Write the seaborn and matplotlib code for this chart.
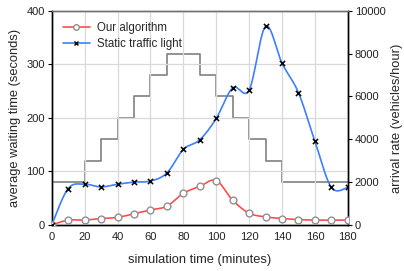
import numpy as np
import seaborn as sns
import matplotlib
matplotlib.use('Agg')
import matplotlib.pyplot as plt

# simulation time (minutes)
minutes = [0, 10, 20, 30, 40, 50, 60, 70, 80, 90, 100, 110, 120, 130, 140, 150, 160, 170, 180]
# average waiting time (seconds)
our_algorithm = [0, 9, 9, 12, 14, 21, 28, 35, 59, 72, 83, 46, 22, 15, 12, 10, 9, 9, 9]
static_light = [0, 68, 76, 71, 76, 80, 82, 97, 141, 159, 199, 256, 252, 371, 302, 247, 156, 70, 70]
# arrival rate (vehicles/hour), step edges
step_minutes = [0, 20, 30, 40, 50, 60, 70, 90, 100, 110, 120, 130, 140, 180]
arrival_rate = [2000, 3000, 4000, 5000, 6000, 7000, 8000, 7000, 6000, 5000, 4000, 3000, 2000, 2000]


def smooth(x, y, n=20):
    # catmull-rom curve through the points, like a smoothed spreadsheet line
    x = np.asarray(x, float)
    y = np.asarray(y, float)
    px = np.concatenate([[x[0]], x, [x[-1]]])
    py = np.concatenate([[y[0]], y, [y[-1]]])
    xs, ys = [], []
    t = np.linspace(0, 1, n, endpoint=False)
    for i in range(1, len(px) - 2):
        for p, out in ((px, xs), (py, ys)):
            p0, p1, p2, p3 = p[i - 1], p[i], p[i + 1], p[i + 2]
            out.extend(0.5 * (2 * p1 + (-p0 + p2) * t
                              + (2 * p0 - 5 * p1 + 4 * p2 - p3) * t ** 2
                              + (-p0 + 3 * p1 - 3 * p2 + p3) * t ** 3))
    xs.append(x[-1])
    ys.append(y[-1])
    return np.array(xs), np.array(ys)


sns.set_style('white')
plt.rcParams['font.family'] = ['Liberation Sans', 'DejaVu Sans']

fig = plt.figure(figsize=(4.04, 2.71), dpi=100)
ax = fig.add_axes([0.128, 0.170, 0.733, 0.790])
ax2 = ax.twinx()

# right axis: arrival rate steps
ax2.step(step_minutes, arrival_rate, where='post', color='#808080', lw=1.2, zorder=1)
ax2.set_ylim(0, 10000)
ax2.set_yticks(range(0, 10001, 2000))
ax2.set_ylabel('arrival rate (vehicles/hour)', fontsize=9.3, labelpad=4)

ax.set_zorder(ax2.get_zorder() + 1)
ax.patch.set_visible(False)

red = '#ff4d4d'
blue = '#3d7fff'
sx, sy = smooth(minutes, our_algorithm)
ax.plot(sx, sy, color=red, lw=1.2, zorder=3)
sns.scatterplot(x=minutes, y=our_algorithm, ax=ax, marker='o', s=24,
                facecolor='white', edgecolor='#909090', linewidth=1, zorder=4)
sx, sy = smooth(minutes, static_light)
ax.plot(sx, sy, color=blue, lw=1.2, zorder=3)
sns.scatterplot(x=minutes, y=static_light, ax=ax, marker='x', s=14,
                color='black', linewidth=1.1, zorder=4)

# legend handles
ax.plot([], [], color=red, lw=1.2, marker='o', ms=4, mfc='white', mec='#909090', label='Our algorithm')
ax.plot([], [], color=blue, lw=1.2, marker='x', ms=3.5, mec='black', label='Static traffic light')
ax.legend(loc='upper left', frameon=False, fontsize=8.3, handlelength=2.3,
          handletextpad=0.6, borderaxespad=0.6, labelspacing=0.35)

ax.set_xlim(0, 180)
ax.set_ylim(0, 400)
ax.set_xticks(range(0, 181, 20))
ax.set_yticks(range(0, 401, 100))
ax.grid(True, color='#d9d9d9', lw=0.9)
ax.set_axisbelow(True)
ax.set_xlabel('simulation time (minutes)', fontsize=9.3, labelpad=9)
ax.set_ylabel('average waiting time (seconds)', fontsize=9.3)

for a in (ax, ax2):
    a.tick_params(axis='both', labelsize=8, length=3, width=0.8, color='black',
                  pad=2, direction='out', labelcolor='#222222')
    for s in a.spines.values():
        s.set_color('black')
        s.set_linewidth(1)
    a.spines['top'].set_color('#707070')
ax.tick_params(axis='x', length=0, pad=5)
ax.tick_params(axis='y', left=True)
ax2.tick_params(axis='y', right=True)

fig.savefig('out.png', dpi=100)
